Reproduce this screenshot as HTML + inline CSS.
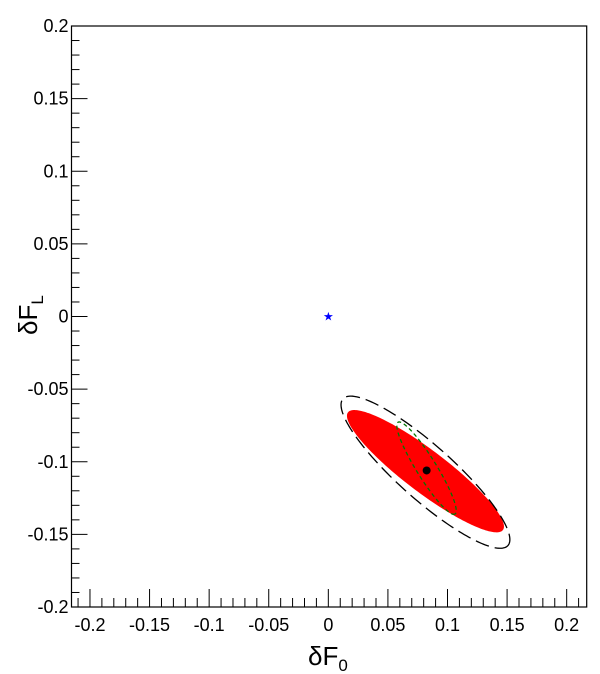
<!DOCTYPE html>
<html><head><meta charset="utf-8"><style>
body{margin:0;background:#fff}
svg{display:block;font-family:"Liberation Sans",Arial,sans-serif}
</style></head><body>
<svg id="c" width="600" height="674"></svg>
<script>
const xTicks=[-0.2,-0.15,-0.1,-0.05,0,0.05,0.1,0.15,0.2];
const xTickLabels=["-0.2","-0.15","-0.1","-0.05","0","0.05","0.1","0.15","0.2"];
const yTicks=[-0.2,-0.15,-0.1,-0.05,0,0.05,0.1,0.15,0.2];
const yTickLabels=["-0.2","-0.15","-0.1","-0.05","0","0.05","0.1","0.15","0.2"];
const bestFit=[0.0825,-0.106];
const sm=[0,0];
const redEllipse=[0.0815,-0.1065,0.065,-0.0405,-0.0107,-0.0115];
const blackEllipse=[0.0815,-0.1072,0.0692,-0.0505,-0.0151,-0.0139];
const greenEllipse=[0.0824,-0.1044,0.0239,-0.0316,-0.0071,-0.0036];

const L=71.5,R=586.7,T=26,B=607;
const X0=-0.2155,X1=0.2168,Y0=-0.2,Y1=0.2;
const sx=v=>L+(v-X0)/(X1-X0)*(R-L);
const sy=v=>B-(v-Y0)/(Y1-Y0)*(B-T);
const svg=document.getElementById('c');
const NS='http://www.w3.org/2000/svg';
function mk(t,a,p){const e=document.createElementNS(NS,t);for(const k in a)e.setAttribute(k,a[k]);(p||svg).appendChild(e);return e;}
function ell(p){let d='';for(let i=0;i<=200;i++){const t=i/200*2*Math.PI;const x=p[0]+p[2]*Math.cos(t)+p[4]*Math.sin(t);const y=p[1]+p[3]*Math.cos(t)+p[5]*Math.sin(t);d+=(i?'L':'M')+sx(x).toFixed(2)+' '+sy(y).toFixed(2);}return d+'Z';}

let e=mk('path',{d:ell(redEllipse),fill:'#ff0000',stroke:'none'});


e=mk('path',{d:ell(blackEllipse),fill:'none',stroke:'#000','stroke-width':1.3,'stroke-dasharray':'14 6'});


e=mk('path',{d:ell(greenEllipse),fill:'none',stroke:'#007700','stroke-width':1.3,'stroke-dasharray':'4 3'});


e=mk('circle',{cx:sx(bestFit[0]),cy:sy(bestFit[1]),r:4,fill:'#000'});


e=mk('text',{x:sx(sm[0]),y:sy(sm[1])+4,'text-anchor':'middle','font-size':12,fill:'#0000ff'});
e.textContent='★';



const g=mk('g',{stroke:'#000','stroke-width':1});


mk('rect',{x:L,y:T,width:R-L,height:B-T,fill:'none','stroke-width':1.2},g);
for(let i=-21;i<=21;i++){const v=i/100;if(v<X0||v>X1)continue;const x=sx(v);const big=i%5==0;mk('line',{x1:x,x2:x,y1:B,y2:B-(big?18:9)},g);}
for(let i=-20;i<=20;i++){const v=i/100;const y=sy(v);const big=i%5==0;mk('line',{x1:L,x2:L+(big?16:8),y1:y,y2:y},g);}
xTicks.forEach((v,i)=>{const t=mk('text',{x:sx(v),y:B+24,'text-anchor':'middle','font-size':18});t.textContent=xTickLabels[i];

});
yTicks.forEach((v,i)=>{const t=mk('text',{x:L-3,y:sy(v)+6,'text-anchor':'end','font-size':18});t.textContent=yTickLabels[i];

});
let xt=mk('text',{x:308,y:665,'font-size':26});
xt.innerHTML='δF<tspan font-size="17" dy="6">0</tspan>';


let yt=mk('text',{x:0,y:0,'font-size':26,transform:'translate(37,335) rotate(-90)'});
yt.innerHTML='δF<tspan font-size="17" dy="6">L</tspan>';


</script>
</body></html>
